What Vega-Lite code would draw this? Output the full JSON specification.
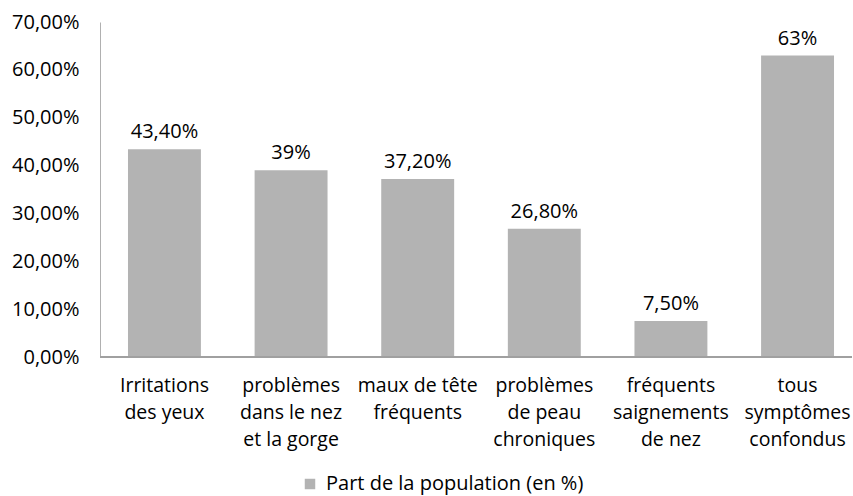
{
  "$schema": "https://vega.github.io/schema/vega-lite/v6.json",
  "width": 752,
  "height": 335,
  "autosize": {"type": "none"},
  "padding": {"left": 100, "top": 22, "right": 1, "bottom": 139},
  "background": "white",
  "config": {
    "view": {"stroke": null},
    "font": "Open Sans",
    "text": {"font": "Open Sans"}
  },
  "data": {
    "values": [
      {"symptome": "Irritations des yeux", "part": 43.4, "etiquette": "43,40%"},
      {"symptome": "problèmes dans le nez et la gorge", "part": 39, "etiquette": "39%"},
      {"symptome": "maux de tête fréquents", "part": 37.2, "etiquette": "37,20%"},
      {"symptome": "problèmes de peau chroniques", "part": 26.8, "etiquette": "26,80%"},
      {"symptome": "fréquents saignements de nez", "part": 7.5, "etiquette": "7,50%"},
      {"symptome": "tous symptômes confondus", "part": 63, "etiquette": "63%"}
    ]
  },
  "encoding": {
    "x": {
      "field": "symptome",
      "type": "nominal",
      "sort": null,
      "scale": {"type": "band", "paddingInner": 0.424, "paddingOuter": 0.221, "range": [0, 762]},
      "axis": {
        "title": null,
        "domain": false,
        "ticks": false,
        "labelAngle": 0,
        "labelFont": "Open Sans",
        "labelFontSize": 19.5,
        "labelColor": "#000000",
        "labelPadding": 19,
        "labelLineHeight": 27,
        "labelLimit": 200,
        "labelExpr": "{'Irritations des yeux': ['Irritations', 'des yeux'], 'problèmes dans le nez et la gorge': ['problèmes', 'dans le nez', 'et la gorge'], 'maux de tête fréquents': ['maux de tête', 'fréquents'], 'problèmes de peau chroniques': ['problèmes', 'de peau', 'chroniques'], 'fréquents saignements de nez': ['fréquents', 'saignements', 'de nez'], 'tous symptômes confondus': ['tous', 'symptômes', 'confondus']}[datum.value]"
      }
    },
    "y": {
      "field": "part",
      "type": "quantitative",
      "scale": {"domain": [0, 70], "nice": false},
      "axis": {
        "title": null,
        "values": [0, 10, 20, 30, 40, 50, 60, 70],
        "grid": false,
        "ticks": false,
        "domain": true,
        "domainColor": "#b0b0b0",
        "domainWidth": 1,
        "labelFont": "Open Sans",
        "labelFontSize": 20,
        "labelColor": "#000000",
        "labelPadding": 21,
        "labelExpr": "replace(format(datum.value, '.2f'), '.', ',') + '%'"
      }
    }
  },
  "layer": [
    {
      "mark": {"type": "bar"},
      "encoding": {
        "color": {
          "datum": "Part de la population (en %)",
          "type": "nominal",
          "scale": {"range": ["#b3b3b3"]},
          "legend": {
            "title": null,
            "orient": "none",
            "legendX": 200,
            "legendY": 452,
            "symbolType": "square",
            "symbolSize": 110,
            "symbolStrokeWidth": 0,
            "labelFont": "Open Sans",
            "labelFontSize": 20,
            "labelColor": "#000000",
            "labelOffset": 6,
            "labelLimit": 500
          }
        }
      }
    },
    {
      "mark": {"type": "rule", "color": "#a0a0a0", "strokeWidth": 1.5},
      "encoding": {"y": {"datum": 0}, "x": null}
    },
    {
      "mark": {"type": "text", "font": "Open Sans", "fontSize": 20, "color": "#000000", "baseline": "alphabetic", "dy": -11},
      "encoding": {"text": {"field": "etiquette"}}
    }
  ]
}
